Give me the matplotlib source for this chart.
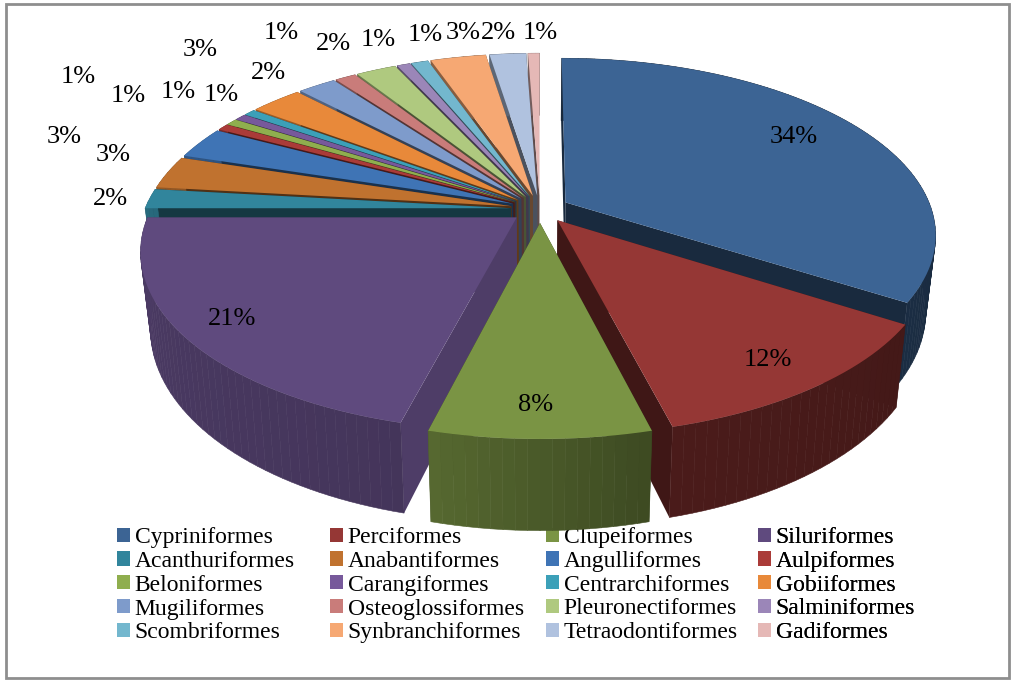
import numpy as np
import matplotlib
matplotlib.use("Agg")
import matplotlib.pyplot as plt
from matplotlib.patches import Polygon, Rectangle, Patch

# ------------------> Data <------------------
orders = ["Cypriniformes", "Perciformes", "Clupeiformes", "Siluriformes",
          "Acanthuriformes", "Anabantiformes", "Angulliformes", "Aulpiformes",
          "Beloniformes", "Carangiformes", "Centrarchiformes", "Gobiiformes",
          "Mugiliformes", "Osteoglossiformes", "Pleuronectiformes", "Salminiformes",
          "Scombriformes", "Synbranchiformes", "Tetraodontiformes", "Gadiformes"]
shares = [34, 12, 8, 21, 1.8, 3.0, 2.9, 0.6, 0.6, 0.6, 0.6, 2.7, 2.0, 1.1, 2.1, 0.7, 0.9, 2.9, 1.9, 0.6]
colors = ["#3C6494", "#953735", "#7A9444", "#5F4A7E", "#31859C", "#C0722F", "#3F74B5", "#AA3B38",
          "#8FAE4E", "#77599B", "#3CA0B8", "#E8893A", "#7E9BCB", "#C97C7A", "#AFC97F", "#9B86B8",
          "#73B7CE", "#F6A873", "#B0C2DF", "#E5B8B6"]
# where each percentage sits, pixels, same order as the slices
label_x = [794, 768, 536, 232, 110, 113, 64, 78, 128, 178, 221, 200, 268, 281, 333, 378, 425, 463, 498, 540]
label_y = [137, 360, 405, 319, 199, 155, 137, 77, 96, 92, 95, 50, 73, 33, 44, 40, 35, 33, 33, 33]

# ------------------> Projection <------------------
cx, cy = 540, 209
rx, ry = 366, 172
persp = 0.178
wall = 74
explode = 0.08


def project(X, Y, z=0.0):
    d = 1 + persp * Y
    sc = 1 - 0.025 * z
    return cx + rx * X / d * sc, cy - ry * Y / d + z * wall / d


def darker(col, f):
    return tuple(c * f for c in matplotlib.colors.to_rgb(col))


def wall_shade(deg):
    return float(np.interp(deg, [60, 90, 165, 195, 270, 360], [0.4, 0.42, 0.5, 0.72, 0.8, 0.5]))


fig = plt.figure(figsize=(10.11, 6.8), dpi=100)
ax = fig.add_axes([0, 0, 1, 1])
ax.set_xlim(0, 1011)
ax.set_ylim(680, 0)
ax.axis("off")

ax.add_patch(Rectangle((6, 4), 1003, 674, fill=False, edgecolor="#8e8e8e", linewidth=2))

plt.rcParams["font.family"] = ["Liberation Serif", "DejaVu Serif"]

# ---> slices, back ones first <---
edges = np.cumsum([0] + shares) / sum(shares) * 360
mids = (edges[:-1] + edges[1:]) / 2
order = np.argsort(-np.cos(np.radians(mids)))

for z_i, i in enumerate(order):
    a0, a1 = np.radians(edges[i]), np.radians(edges[i + 1])
    am = np.radians(mids[i])
    ox, oy = explode * np.sin(am), explode * np.cos(am)
    arc = np.linspace(a0, a1, max(4, int((edges[i + 1] - edges[i]) / 1.5)))
    X = ox + np.sin(arc)
    Y = oy + np.cos(arc)

    # radial walls
    rad_f = 0.82 if orders[i] == "Siluriformes" else 0.42
    for k in (0, -1):
        p = [project(ox, oy), project(X[k], Y[k]), project(X[k], Y[k], 1), project(ox, oy, 1)]
        ax.add_patch(Polygon(p, closed=True, facecolor=darker(colors[i], rad_f),
                             edgecolor="none", zorder=2 + z_i))

    # outer wall, one strip per arc step so the shade can drift
    for j in range(len(arc) - 1):
        p = [project(X[j], Y[j]), project(X[j + 1], Y[j + 1]),
             project(X[j + 1], Y[j + 1], 1), project(X[j], Y[j], 1)]
        f = wall_shade(np.degrees(arc[j]))
        ax.add_patch(Polygon(p, closed=True, facecolor=darker(colors[i], f),
                             edgecolor=darker(colors[i], f), linewidth=0.4, zorder=2 + z_i))

    # top face
    top = [project(ox, oy)] + [project(a, b) for a, b in zip(X, Y)]
    ax.add_patch(Polygon(top, closed=True, facecolor=colors[i], edgecolor="none", zorder=2 + z_i))

for v, lx, ly in zip(shares, label_x, label_y):
    ax.text(lx, ly, f"{v:.0f}%", fontsize=19, ha="center", va="center", color="black", zorder=100)

# ---> legend, laid out in rows like the original, one block per column <---
col_x = [117, 330, 546, 758]
for c in range(4):
    hs = [Patch(facecolor=colors[r * 4 + c], label=orders[r * 4 + c]) for r in range(5)]
    leg = ax.legend(handles=hs, loc="upper left", bbox_to_anchor=(col_x[c], 527),
                    bbox_transform=ax.transData, frameon=False, fontsize=17,
                    handlelength=0.55, handleheight=0.55, handletextpad=0.2,
                    labelspacing=0.12, borderpad=0, borderaxespad=0)
    ax.add_artist(leg)

fig.savefig("out.png", dpi=100)
